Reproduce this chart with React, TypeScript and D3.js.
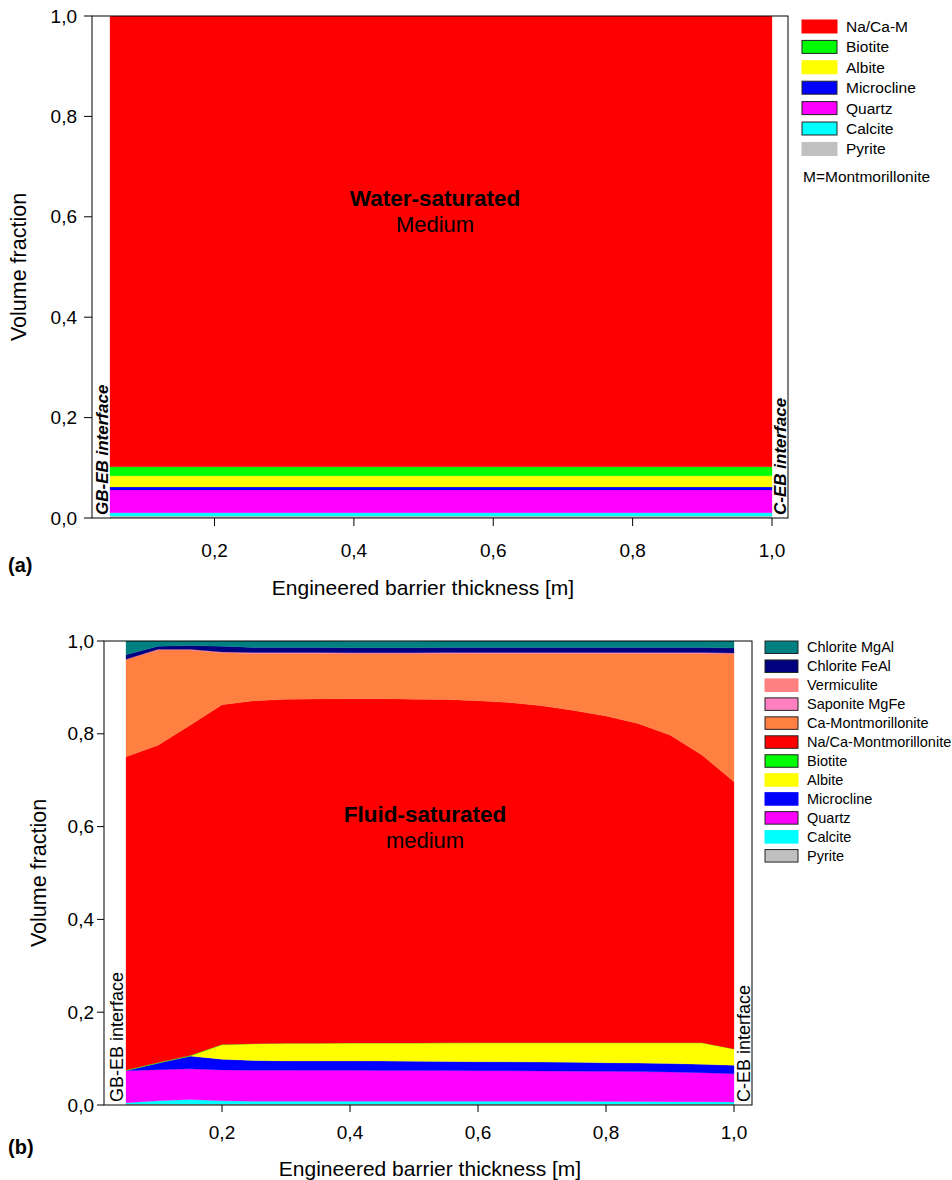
import React from 'react';
import * as d3 from 'd3';

// ---- panel (a): water-saturated medium, uniform profile ----
const thicknessA = [0.05, 1.0];
const keysA = ['Pyrite', 'Calcite', 'Quartz', 'Microcline', 'Albite', 'Biotite', 'Na/Ca-M'];
const pyriteA = [0.004, 0.004];
const calciteA = [0.0066, 0.0066];
const quartzA = [0.0454, 0.0454];
const microclineA = [0.006, 0.006];
const albiteA = [0.022, 0.022];
const biotiteA = [0.018, 0.018];
const naCaMA = [0.898, 0.898];
const legendA = ['Na/Ca-M', 'Biotite', 'Albite', 'Microcline', 'Quartz', 'Calcite', 'Pyrite'];

// ---- panel (b): fluid-saturated medium ----
const thicknessB = [0.05, 0.1, 0.15, 0.2, 0.25, 0.3, 0.35, 0.4, 0.45, 0.5,
  0.55, 0.6, 0.65, 0.7, 0.75, 0.8, 0.85, 0.9, 0.95, 1.0];
const keysB = ['Pyrite', 'Calcite', 'Quartz', 'Microcline', 'Albite', 'Biotite',
  'Na/Ca-Montmorillonite', 'Ca-Montmorillonite', 'Saponite MgFe', 'Vermiculite',
  'Chlorite FeAl', 'Chlorite MgAl'];
const pyriteB = [0.002, 0.002, 0.002, 0.002, 0.002, 0.002, 0.002, 0.002, 0.002, 0.002,
  0.002, 0.002, 0.002, 0.002, 0.002, 0.002, 0.002, 0.002, 0.002, 0.002];
const calciteB = [0.003, 0.007, 0.010, 0.007, 0.006, 0.006, 0.006, 0.006, 0.006, 0.006,
  0.006, 0.006, 0.006, 0.006, 0.006, 0.0058, 0.0055, 0.0052, 0.005, 0.0045];
const quartzB = [0.069, 0.067, 0.066, 0.0665, 0.067, 0.067, 0.0668, 0.0668, 0.0665, 0.0665,
  0.0662, 0.066, 0.0657, 0.0653, 0.065, 0.0647, 0.0645, 0.0638, 0.0627, 0.061];
const microclineB = [0.0005, 0.0145, 0.0275, 0.023, 0.021, 0.020, 0.0202, 0.0202, 0.0203, 0.020,
  0.0198, 0.0194, 0.0193, 0.0192, 0.019, 0.0185, 0.0183, 0.0185, 0.018, 0.018];
const albiteB = [0, 0, 0, 0.0315, 0.036, 0.038, 0.038, 0.0385, 0.0387, 0.039,
  0.0398, 0.0406, 0.041, 0.0415, 0.042, 0.043, 0.0437, 0.0445, 0.0463, 0.0352];
const biotiteB = [0.001, 0.001, 0.001, 0.0005, 0.0002, 0.0002, 0.0002, 0.0002, 0.0002, 0.0002,
  0.0002, 0.0002, 0.0002, 0.0002, 0.0002, 0.0002, 0.0002, 0.0002, 0.0002, 0.0002];
const naCaMB = [0.675, 0.684, 0.712, 0.732, 0.739, 0.741, 0.742, 0.742, 0.742, 0.741,
  0.740, 0.737, 0.733, 0.726, 0.716, 0.704, 0.688, 0.663, 0.620, 0.576];
const caMB = [0.210, 0.205, 0.162, 0.112, 0.102, 0.099, 0.098, 0.097, 0.097, 0.098,
  0.099, 0.102, 0.106, 0.113, 0.123, 0.135, 0.151, 0.176, 0.219, 0.275];
const saponiteB = [0, 0.001, 0.001, 0.0015, 0.0015, 0.0015, 0.0015, 0.0015, 0.0015, 0.0015,
  0.0015, 0.0015, 0.0015, 0.0015, 0.0015, 0.0015, 0.0015, 0.0015, 0.0015, 0.0015];
const vermiculiteB = [0, 0.0005, 0.0005, 0.0005, 0.0005, 0.0005, 0.0005, 0.0005, 0.0005, 0.0005,
  0.0005, 0.0005, 0.0005, 0.0005, 0.0005, 0.0005, 0.0005, 0.0005, 0.0005, 0.0005];
const chloriteFeAlB = [0.010, 0.0065, 0.0085, 0.012, 0.011, 0.011, 0.011, 0.011, 0.011, 0.011,
  0.011, 0.011, 0.011, 0.011, 0.011, 0.011, 0.011, 0.011, 0.011, 0.011];
const chloriteMgAlB = [0.030, 0.012, 0.010, 0.012, 0.014, 0.014, 0.014, 0.014, 0.014, 0.014,
  0.014, 0.014, 0.014, 0.014, 0.014, 0.014, 0.014, 0.014, 0.014, 0.015];
const legendB = ['Chlorite MgAl', 'Chlorite FeAl', 'Vermiculite', 'Saponite MgFe',
  'Ca-Montmorillonite', 'Na/Ca-Montmorillonite', 'Biotite', 'Albite', 'Microcline',
  'Quartz', 'Calcite', 'Pyrite'];

const yTicks = [0, 0.2, 0.4, 0.6, 0.8, 1.0];
const xTicks = [0.2, 0.4, 0.6, 0.8, 1.0];

const colors: Record<string, string> = {
  'Na/Ca-M': '#ff0000',
  'Na/Ca-Montmorillonite': '#ff0000',
  'Ca-Montmorillonite': '#ff8040',
  'Biotite': '#00ff00',
  'Albite': '#ffff00',
  'Microcline': '#0000ff',
  'Quartz': '#ff00ff',
  'Calcite': '#00ffff',
  'Pyrite': '#c0c0c0',
  'Saponite MgFe': '#ff80c0',
  'Vermiculite': '#ff8080',
  'Chlorite FeAl': '#000080',
  'Chlorite MgAl': '#008080',
};
// swatches drawn with a dark outline in the legends
const outlinedA = ['Biotite', 'Microcline', 'Quartz', 'Calcite'];
const outlinedB = ['Chlorite MgAl', 'Chlorite FeAl', 'Saponite MgFe', 'Ca-Montmorillonite',
  'Na/Ca-Montmorillonite', 'Biotite', 'Quartz', 'Pyrite'];

const FONT = '"Liberation Sans", Arial, Helvetica, sans-serif';
const fmt = (v: number) => d3.format('.1f')(v).replace('.', ',');

function buildRows(xs: number[], keys: string[], cols: number[][]) {
  return xs.map((x, i) => {
    const row: Record<string, number> = { x };
    keys.forEach((k, j) => { row[k] = cols[j][i]; });
    return row;
  });
}

type PanelProps = {
  id: string;
  rows: Record<string, number>[];
  keys: string[];
  frame: { left: number; right: number; top: number; bottom: number };
  xRange: [number, number];
  tickLen: number;
  yLabelX: number;
  xLabelY: number;
  xTitleX: number;
  xTitleY: number;
  yTitleX: number;
  titleBold: string;
  titleNormal: string;
  titleX: number;
  titleY: number;
  leftIface: { text: string; x: number };
  rightIface: { text: string; x: number };
  ifaceStyle: { weight: string; italic: boolean; size: number };
  tag: string;
  tagY: number;
};

function Panel(p: PanelProps) {
  const x = d3.scaleLinear().domain([0.05, 1.0]).range(p.xRange);
  const y = d3.scaleLinear().domain([0, 1]).range([p.frame.bottom, p.frame.top]);
  const series = d3.stack<Record<string, number>>().keys(p.keys)(p.rows);
  const area = d3.area<d3.SeriesPoint<Record<string, number>>>()
    .x(d => x(d.data.x))
    .y0(d => y(d[0]))
    .y1(d => y(d[1]))
    .curve(d3.curveLinear);
  const f = p.frame;
  return (
    <g>
      <defs>
        <clipPath id={`clip-${p.id}`}>
          <rect x={f.left} y={f.top} width={f.right - f.left} height={f.bottom - f.top} />
        </clipPath>
      </defs>
      <g clipPath={`url(#clip-${p.id})`}>
        {series.map(s => (
          <path key={s.key} d={area(s) || ''} fill={colors[s.key]} stroke={colors[s.key]} strokeWidth={0.3} />
        ))}
      </g>
      {/* frame */}
      <rect x={f.left} y={f.top} width={f.right - f.left} height={f.bottom - f.top}
        fill="none" stroke="#000" strokeWidth={1} />
      {/* y axis */}
      {yTicks.map(t => (
        <g key={`y${t}`}>
          <line x1={f.left - p.tickLen} x2={f.left} y1={y(t)} y2={y(t)} stroke="#000" />
          <text x={p.yLabelX} y={y(t)} dy="0.35em" textAnchor="end" fontSize={19}>{fmt(t)}</text>
        </g>
      ))}
      {/* x axis */}
      {xTicks.map(t => (
        <g key={`x${t}`}>
          <line x1={x(t)} x2={x(t)} y1={f.bottom} y2={f.bottom + p.tickLen} stroke="#000" />
          <text x={x(t)} y={p.xLabelY} dy="0.35em" textAnchor="middle" fontSize={19}>{fmt(t)}</text>
        </g>
      ))}
      <text x={p.xTitleX} y={p.xTitleY} dy="0.35em" textAnchor="middle" fontSize={21}>
        Engineered barrier thickness [m]
      </text>
      <text transform={`translate(${p.yTitleX},${y(0.5)}) rotate(-90)`} dy="0.35em"
        textAnchor="middle" fontSize={21.5}>Volume fraction</text>
      <text x={p.titleX} y={p.titleY} textAnchor="middle" fontSize={22.5} fontWeight="bold">{p.titleBold}</text>
      <text x={p.titleX} y={p.titleY + 26} textAnchor="middle" fontSize={22}>{p.titleNormal}</text>
      <text transform={`translate(${p.leftIface.x},${f.bottom - 3}) rotate(-90)`}
        fontSize={p.ifaceStyle.size} fontWeight={p.ifaceStyle.weight}
        fontStyle={p.ifaceStyle.italic ? 'italic' : 'normal'}>{p.leftIface.text}</text>
      <text transform={`translate(${p.rightIface.x},${f.bottom - 3}) rotate(-90)`}
        fontSize={p.ifaceStyle.size} fontWeight={p.ifaceStyle.weight}
        fontStyle={p.ifaceStyle.italic ? 'italic' : 'normal'}>{p.rightIface.text}</text>
      <text x={8} y={p.tagY} fontSize={20} fontWeight="bold">{p.tag}</text>
    </g>
  );
}

function Legend(props: { items: string[]; outlined: string[]; x: number; y: number; step: number;
  w: number; h: number; fontSize: number; note?: string; noteY?: number }) {
  const { items, outlined, x, y, step, w, h, fontSize } = props;
  return (
    <g>
      {items.map((k, i) => (
        <g key={k} transform={`translate(${x},${y + i * step})`}>
          <rect x={0} y={0} width={w} height={h} fill={colors[k]}
            stroke={outlined.includes(k) ? '#222' : colors[k]} strokeWidth={1} />
          <text x={w + 9} y={h / 2} dy="0.36em" fontSize={fontSize}>{k}</text>
        </g>
      ))}
      {props.note && (
        <text x={x + 1} y={props.noteY} dy="0.36em" fontSize={fontSize}>{props.note}</text>
      )}
    </g>
  );
}

export default function App() {
  const rowsA = buildRows(thicknessA, keysA,
    [pyriteA, calciteA, quartzA, microclineA, albiteA, biotiteA, naCaMA]);
  const rowsB = buildRows(thicknessB, keysB,
    [pyriteB, calciteB, quartzB, microclineB, albiteB, biotiteB, naCaMB, caMB,
      saponiteB, vermiculiteB, chloriteFeAlB, chloriteMgAlB]);
  return (
    <svg width={952} height={1180} style={{ position: 'absolute', left: 0, top: 0, background: '#fff' }}
      fontFamily={FONT}>
      <Panel id="a" rows={rowsA} keys={keysA}
        frame={{ left: 92, right: 788, top: 16, bottom: 518 }} xRange={[110, 772]}
        tickLen={8} yLabelX={77} xLabelY={550} xTitleX={423} xTitleY={588} yTitleX={18}
        titleBold="Water-saturated" titleNormal="Medium" titleX={435} titleY={206}
        leftIface={{ text: 'GB-EB interface', x: 108 }} rightIface={{ text: 'C-EB interface', x: 786 }}
        ifaceStyle={{ weight: 'bold', italic: true, size: 17 }}
        tag="(a)" tagY={572} />
      <Legend items={legendA} outlined={outlinedA} x={802} y={20} step={20.4} w={35} h={13}
        fontSize={15.5} note="M=Montmorillonite" noteY={176} />
      <Panel id="b" rows={rowsB} keys={keysB}
        frame={{ left: 104, right: 752, top: 641, bottom: 1105 }} xRange={[126, 734]}
        tickLen={7} yLabelX={94} xLabelY={1132} xTitleX={430} xTitleY={1169} yTitleX={38}
        titleBold="Fluid-saturated" titleNormal="medium" titleX={425} titleY={822}
        leftIface={{ text: 'GB-EB interface', x: 123 }} rightIface={{ text: 'C-EB interface', x: 750 }}
        ifaceStyle={{ weight: 'normal', italic: false, size: 18 }}
        tag="(b)" tagY={1154} />
      <Legend items={legendB} outlined={outlinedB} x={765} y={641} step={18.96} w={33} h={12.5}
        fontSize={14.5} />
    </svg>
  );
}
